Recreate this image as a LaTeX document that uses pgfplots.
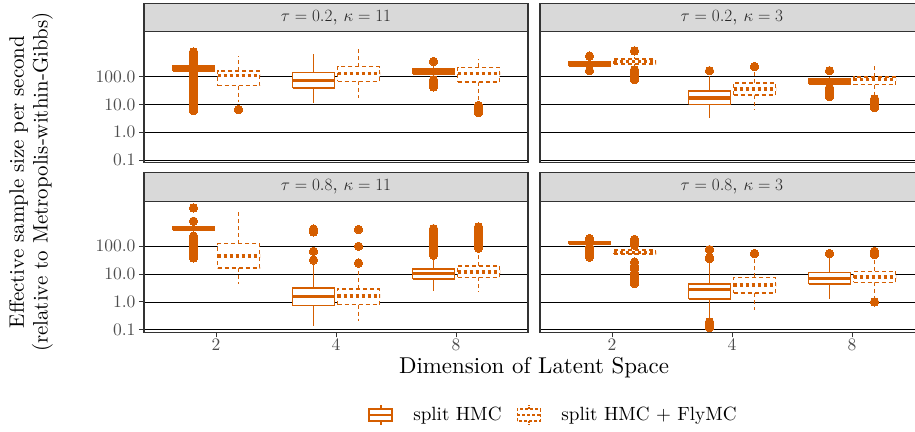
\documentclass[border=0pt]{standalone}
\usepackage{fontspec}
\setmainfont{lmroman10-regular.otf}
\usepackage{pgfplots}
\pgfplotsset{compat=1.18}
\definecolor{hmc}{RGB}{213,94,0}
\definecolor{stripgray}{RGB}{217,217,217}
\definecolor{bordercol}{RGB}{51,51,51}
\definecolor{ticklab}{RGB}{77,77,77}
\definecolor{striptext}{RGB}{40,40,40}
\newcommand{\smallfs}{\fontsize{17.6}{20}\selectfont}
\newcommand{\stripfs}{\fontsize{18.4}{20}\selectfont}
\newcommand{\legfs}{\fontsize{19.2}{21}\selectfont}
\newcommand{\bigfs}{\fontsize{23}{24}\selectfont}
\newcommand{\ylabfs}{\fontsize{21}{24}\selectfont}
\pgfplotsset{
  sline/.style={draw=hmc, line width=1.7bp, mark=none, solid},
  dline/.style={draw=hmc, line width=1.7bp, mark=none, dash pattern=on 4bp off 3bp},
  smed/.style={draw=hmc, line width=3.5bp, mark=none, solid},
  dmed/.style={draw=hmc, line width=3.5bp, mark=none, dash pattern=on 3bp off 3bp},
  outl/.style={only marks, mark=*, mark size=4.2bp, mark options={solid, fill=hmc, draw=hmc, line width=0pt}},
}
% #1 left, #2 centre, #3 right, #4 lower whisker, #5 q1, #6 median, #7 q3, #8 upper whisker
\newcommand{\SB}[8]{%
  \addplot[sline] coordinates {(#2,#7) (#2,#8)};
  \addplot[sline] coordinates {(#2,#5) (#2,#4)};
  \addplot[sline, fill=white] coordinates {(#1,#5) (#3,#5) (#3,#7) (#1,#7) (#1,#5)};
  \addplot[smed] coordinates {(#1,#6) (#3,#6)};
}
\newcommand{\DB}[8]{%
  \addplot[dline] coordinates {(#2,#7) (#2,#8)};
  \addplot[dline] coordinates {(#2,#5) (#2,#4)};
  \addplot[dline, fill=white] coordinates {(#1,#5) (#3,#5) (#3,#7) (#1,#7) (#1,#5)};
  \addplot[dmed] coordinates {(#1,#6) (#3,#6)};
}
\begin{document}
\begin{tikzpicture}
\useasboundingbox (0,0) rectangle (915bp,432bp);

% ---------------- top-left: tau=0.2, kappa=11
\begin{axis}[ymode=log, scale only axis, height=131bp, width=384bp,
  at={(144bp,269.3bp)}, anchor=south west,
  xmin=0.4, xmax=3.6, ymin=0.0803, ymax=4170, clip=false,
  axis line style={draw=bordercol, line width=1.1bp},
  ymajorgrids, major grid style={black, line width=0.6bp},
  tick align=outside, major tick length=5bp,
  major tick style={draw=bordercol, line width=1bp},
  ytick={0.1,1,10,100}, yticklabels={0.1,1.0,10.0,100.0}, yminorticks=false,
  xtick=\empty, ytick pos=left,
  tick label style={font=\smallfs, text=ticklab}]
\SB{0.6375}{0.8125}{0.9875}{150}{164}{200}{246}{270}
\addplot[outl] coordinates {(0.8125,320) (0.8125,400) (0.8125,500) (0.8125,620) (0.8125,780) (0.8125,130) (0.8125,110) (0.8125,90) (0.8125,75) (0.8125,62) (0.8125,52) (0.8125,43) (0.8125,36) (0.8125,30) (0.8125,25) (0.8125,21) (0.8125,17) (0.8125,14) (0.8125,12) (0.8125,10) (0.8125,8.5) (0.8125,7) (0.8125,6)};
\DB{1.0125}{1.1875}{1.3625}{11.8}{48}{109}{164}{576}
\addplot[outl] coordinates {(1.1875,6.6)};
\SB{1.6375}{1.8125}{1.9875}{10.9}{39.5}{72}{142}{646}
\DB{2.0125}{2.1875}{2.3625}{17.4}{68}{128}{233}{1280}
\SB{2.6375}{2.8125}{2.9875}{100}{128}{157}{188}{268}
\addplot[outl] coordinates {(2.8125,354) (2.8125,78) (2.8125,62) (2.8125,50) (2.8125,43)};
\DB{3.0125}{3.1875}{3.3625}{15}{63}{128}{215}{430}
\addplot[outl] coordinates {(3.1875,9.2) (3.1875,7.5) (3.1875,6.2) (3.1875,5.1)};
\draw[draw=bordercol, fill=stripgray, line width=1.1bp] (rel axis cs:0,1) rectangle ([yshift=28.4bp]rel axis cs:1,1);
\node[text=striptext, font=\stripfs] at ([yshift=14.2bp]rel axis cs:0.5,1) {$\tau = 0.2$, $\kappa = 11$};
\end{axis}

% ---------------- top-right: tau=0.2, kappa=3
\begin{axis}[ymode=log, scale only axis, height=131bp, width=377bp,
  at={(540bp,269.3bp)}, anchor=south west,
  xmin=0.4, xmax=3.541667, ymin=0.0803, ymax=4170, clip=false,
  axis line style={draw=bordercol, line width=1.1bp},
  ymajorgrids, major grid style={black, line width=0.6bp},
  major tick length=0bp,
  ytick={0.1,1,10,100}, yticklabels={,,,}, yminorticks=false,
  xtick=\empty]
\SB{0.6375}{0.8125}{0.9875}{220}{233}{290}{352}{370}
\addplot[outl] coordinates {(0.8125,550) (0.8125,164)};
\DB{1.0125}{1.1875}{1.3625}{240}{290}{357}{430}{530}
\addplot[outl] coordinates {(1.1875,850) (1.1875,178) (1.1875,140) (1.1875,110) (1.1875,90) (1.1875,78)};
\SB{1.6375}{1.8125}{1.9875}{3.35}{10}{17.4}{30}{105}
\addplot[outl] coordinates {(1.8125,164)};
\DB{2.0125}{2.1875}{2.3625}{6.6}{21.5}{36}{60}{155}
\addplot[outl] coordinates {(2.1875,233)};
\SB{2.6375}{2.8125}{2.9875}{50}{55}{69}{83}{95}
\addplot[outl] coordinates {(2.8125,164) (2.8125,40) (2.8125,32) (2.8125,26) (2.8125,21) (2.8125,19)};
\DB{3.0125}{3.1875}{3.3625}{23}{52}{78}{97}{233}
\addplot[outl] coordinates {(3.1875,16) (3.1875,13) (3.1875,10.5) (3.1875,8.8) (3.1875,7.6)};
\draw[draw=bordercol, fill=stripgray, line width=1.1bp] (rel axis cs:0,1) rectangle ([yshift=28.4bp]rel axis cs:1,1);
\node[text=striptext, font=\stripfs] at ([yshift=14.2bp]rel axis cs:0.509,1) {$\tau = 0.2$, $\kappa = 3$};
\end{axis}

% ---------------- bottom-left: tau=0.8, kappa=11
\begin{axis}[ymode=log, scale only axis, height=131bp, width=384bp,
  at={(144bp,99.7bp)}, anchor=south west,
  xmin=0.4, xmax=3.6, ymin=0.0803, ymax=4170, clip=false,
  axis line style={draw=bordercol, line width=1.1bp},
  ymajorgrids, major grid style={black, line width=0.6bp},
  tick align=outside, major tick length=5bp,
  major tick style={draw=bordercol, line width=1bp},
  ytick={0.1,1,10,100}, yticklabels={0.1,1.0,10.0,100.0}, yminorticks=false,
  xtick={1,2,3}, xticklabels={2,4,8}, xtick pos=bottom, ytick pos=left,
  tick label style={font=\smallfs, text=ticklab},
  xticklabel style={inner ysep=1.5bp},
  legend style={at={(1.0664,-0.63)}, anchor=center, draw=none, fill=none,
    font=\legfs, legend columns=2,
    /tikz/every even column/.append style={column sep=13bp}},
  legend cell align=left]
\addlegendimage{legend image code/.code={
  \draw[hmc, line width=1.7bp, solid] (0bp,-6bp) rectangle (23bp,6bp);
  \draw[hmc, line width=1.7bp, solid] (0bp,0bp) -- (23bp,0bp);
  \draw[hmc, line width=1.7bp, solid] (11.5bp,6bp) -- (11.5bp,10bp);
  \draw[hmc, line width=1.7bp, solid] (11.5bp,-6bp) -- (11.5bp,-10bp);
  \path[draw=none] (0bp,0bp) -- (42bp,0bp);}}
\addlegendentry{split HMC}
\addlegendimage{legend image code/.code={
  \draw[hmc, line width=1.7bp, dash pattern=on 3bp off 2bp] (0bp,-6bp) rectangle (23bp,6bp);
  \draw[hmc, line width=1.7bp, dash pattern=on 3bp off 2bp] (0bp,0bp) -- (23bp,0bp);
  \draw[hmc, line width=1.7bp, dash pattern=on 2bp off 1bp] (11.5bp,6bp) -- (11.5bp,10bp);
  \draw[hmc, line width=1.7bp, dash pattern=on 2bp off 1bp] (11.5bp,-6bp) -- (11.5bp,-10bp);
  \path[draw=none] (0bp,0bp) -- (42bp,0bp);}}
\addlegendentry{split HMC + FlyMC}
\SB{0.6375}{0.8125}{0.9875}{340}{372}{437}{505}{560}
\addplot[outl] coordinates {(0.8125,2400) (0.8125,800) (0.8125,233) (0.8125,190) (0.8125,150) (0.8125,120) (0.8125,95) (0.8125,75) (0.8125,60) (0.8125,48) (0.8125,38)};
\DB{1.0125}{1.1875}{1.3625}{4.4}{16.4}{45}{125}{2200}
\SB{1.6375}{1.8125}{1.9875}{0.135}{0.74}{1.55}{3.16}{24}
\addplot[outl] coordinates {(1.8125,32) (1.8125,66) (1.8125,330) (1.8125,420)};
\DB{2.0125}{2.1875}{2.3625}{0.21}{0.8}{1.6}{2.9}{20}
\addplot[outl] coordinates {(2.1875,25) (2.1875,100) (2.1875,405)};
\SB{2.6375}{2.8125}{2.9875}{2.5}{6.6}{10.6}{15}{40}
\addplot[outl] coordinates {(2.8125,48) (2.8125,62) (2.8125,80) (2.8125,100) (2.8125,130) (2.8125,165) (2.8125,210) (2.8125,270) (2.8125,340) (2.8125,430)};
\DB{3.0125}{3.1875}{3.3625}{2.3}{7.6}{12}{19.8}{60}
\addplot[outl] coordinates {(3.1875,85) (3.1875,115) (3.1875,150) (3.1875,195) (3.1875,250) (3.1875,320) (3.1875,410) (3.1875,500)};
\draw[draw=bordercol, fill=stripgray, line width=1.1bp] (rel axis cs:0,1) rectangle ([yshift=28.4bp]rel axis cs:1,1);
\node[text=striptext, font=\stripfs] at ([yshift=14.2bp]rel axis cs:0.5,1) {$\tau = 0.8$, $\kappa = 11$};
\end{axis}

% ---------------- bottom-right: tau=0.8, kappa=3
\begin{axis}[ymode=log, scale only axis, height=131bp, width=377bp,
  at={(540bp,99.7bp)}, anchor=south west,
  xmin=0.4, xmax=3.541667, ymin=0.0803, ymax=4170, clip=false,
  axis line style={draw=bordercol, line width=1.1bp},
  ymajorgrids, major grid style={black, line width=0.6bp},
  tick align=outside, major tick length=5bp,
  major tick style={draw=bordercol, line width=1bp},
  ytick={0.1,1,10,100}, yticklabels={,,,}, yminorticks=false,
  xtick={1,2,3}, xticklabels={2,4,8}, xtick pos=bottom, ytick pos=right,
  tick label style={font=\smallfs, text=ticklab},
  xticklabel style={inner ysep=1.5bp}]
\SB{0.6375}{0.8125}{0.9875}{110}{118}{131}{147}{160}
\addplot[outl] coordinates {(0.8125,190) (0.8125,95) (0.8125,75) (0.8125,60) (0.8125,48) (0.8125,41)};
\DB{1.0125}{1.1875}{1.3625}{48}{52}{61}{74}{90}
\addplot[outl] coordinates {(1.1875,178) (1.1875,140) (1.1875,110) (1.1875,27) (1.1875,20) (1.1875,15) (1.1875,11) (1.1875,8.5) (1.1875,6.5) (1.1875,5.2) (1.1875,4.6)};
\SB{1.6375}{1.8125}{1.9875}{0.26}{1.28}{2.75}{4.4}{34}
\addplot[outl] coordinates {(1.8125,36) (1.8125,40) (1.8125,76) (1.8125,0.19) (1.8125,0.16) (1.8125,0.13) (1.8125,0.12)};
\DB{2.0125}{2.1875}{2.3625}{0.53}{2.05}{4.05}{7.6}{40}
\addplot[outl] coordinates {(2.1875,55)};
\SB{2.6375}{2.8125}{2.9875}{1.28}{4.4}{7.0}{11.5}{45}
\addplot[outl] coordinates {(2.8125,55)};
\DB{3.0125}{3.1875}{3.3625}{1.28}{5}{8}{12.5}{45}
\addplot[outl] coordinates {(3.1875,50) (3.1875,58) (3.1875,66) (3.1875,1.0)};
\draw[draw=bordercol, fill=stripgray, line width=1.1bp] (rel axis cs:0,1) rectangle ([yshift=28.4bp]rel axis cs:1,1);
\node[text=striptext, font=\stripfs] at ([yshift=14.2bp]rel axis cs:0.509,1) {$\tau = 0.8$, $\kappa = 3$};
\end{axis}

\node[font=\bigfs] at (534bp,64bp) {Dimension of Latent Space};
\node[font=\ylabfs, rotate=90, align=center] at (31bp,250bp) {Effective sample size per second\\(relative to Metropolis-within-Gibbs)};
\end{tikzpicture}
\end{document}
